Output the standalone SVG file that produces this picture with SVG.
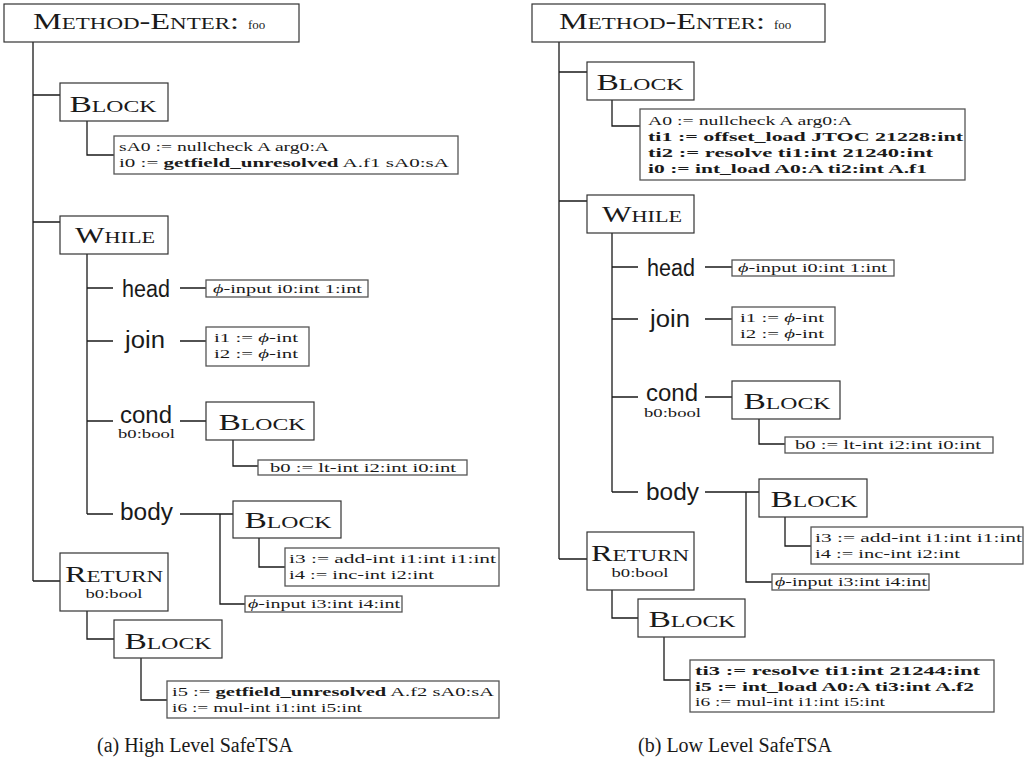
<svg xmlns="http://www.w3.org/2000/svg" width="1024" height="780" viewBox="0 0 1024 780">
<style>
.bg{fill:#fff}
.hb{fill:#fff;stroke:#333;stroke-width:1.2}
.sb{fill:#fff;stroke:#555;stroke-width:1.3}
.hd{font-family:"Liberation Serif",serif;font-variant:small-caps;font-size:24px;fill:#1a1a1a;text-anchor:middle}
.me{font-family:"Liberation Serif",serif;font-variant:small-caps;font-size:24px;fill:#1a1a1a}
.foo{font-family:"Liberation Serif",serif;font-size:13px;fill:#1a1a1a}
.st{font-family:"Liberation Serif",serif;font-size:13.5px;fill:#1a1a1a}
.sbold{font-weight:bold}
.lab{font-family:"Liberation Sans",sans-serif;font-size:23px;fill:#1a1a1a}
.ty{font-family:"Liberation Serif",serif;font-size:13.5px;fill:#1a1a1a}
.cap{font-family:"Liberation Serif",serif;font-size:20px;fill:#1a1a1a;text-anchor:middle}
.cn{fill:none;stroke:#1a1a1a;stroke-width:1.3}
</style>
<rect class="bg" x="0" y="0" width="1024" height="780"/>
<g id="connectors">
<path class="cn" d="M33 42V581M33 95H60M33 222H60M33 581H60M87 121V155H114M87 254V514M87 288H113M87 341H113M87 421H113M87 514H113M180 288H206M180 341H206M180 421H206M180 514H233M233 440V466H258M220 514V604H245M259 538V567H285M87 611V639H114M141 658V700H167"/>
<path class="cn" d="M559 42V559M559 72H587M559 201H587M559 559H587M612 100V126H640M612 233V492M612 267H638M612 319H638M612 397H638M612 492H638M705 267H732M705 319H732M705 397H732M705 492H759M759 419V444H785M746 492V582H772M785 517V546H811M612 590V618H638M664 637V680H690"/>
</g>
<!-- Left tree -->
<g id="a-method">
<rect class="hb" x="4" y="4" width="295" height="38"/>
<text class="me" x="33" y="29" textLength="206" lengthAdjust="spacingAndGlyphs">Method-Enter:</text>
<text class="foo" x="248" y="29">foo</text>
</g>
<g id="a-block1">
<rect class="hb" x="60" y="83" width="108" height="38"/>
<text class="hd" x="113" y="112" textLength="87" lengthAdjust="spacingAndGlyphs">Block</text>
</g>
<g id="a-stmt1">
<rect class="sb" x="114" y="136" width="344" height="38"/>
<text class="st" x="119" y="151" textLength="210" lengthAdjust="spacingAndGlyphs">sA0 := nullcheck A arg0:A</text>
<text class="st" x="119" y="167" textLength="330" lengthAdjust="spacingAndGlyphs">i0 := <tspan class="sbold">getfield_unresolved</tspan> A.f1 sA0:sA</text>
</g>
<g id="a-while">
<rect class="hb" x="60" y="216" width="108" height="38"/>
<text class="hd" x="115" y="243" textLength="80" lengthAdjust="spacingAndGlyphs">While</text>
</g>
<g id="a-head">
<text class="lab" x="122" y="297" textLength="48" lengthAdjust="spacingAndGlyphs">head</text>
</g>
<g id="a-head-stmt">
<rect class="sb" x="206" y="280" width="162" height="17"/>
<text class="st" x="213" y="293" textLength="149" lengthAdjust="spacingAndGlyphs"><tspan font-style="italic">ϕ</tspan>-input i0:int 1:int</text>
</g>
<g id="a-join">
<text class="lab" x="125" y="348" textLength="40" lengthAdjust="spacingAndGlyphs">join</text>
</g>
<g id="a-join-stmt">
<rect class="sb" x="206" y="327" width="103" height="39"/>
<text class="st" x="214" y="342" textLength="84" lengthAdjust="spacingAndGlyphs">i1 := <tspan font-style="italic">ϕ</tspan>-int</text>
<text class="st" x="214" y="358" textLength="84" lengthAdjust="spacingAndGlyphs">i2 := <tspan font-style="italic">ϕ</tspan>-int</text>
</g>
<g id="a-cond">
<text class="lab" x="120" y="423" textLength="52" lengthAdjust="spacingAndGlyphs">cond</text>
<text class="ty" x="118" y="438" textLength="57" lengthAdjust="spacingAndGlyphs">b0:bool</text>
</g>
<g id="a-cond-block">
<rect class="hb" x="206" y="402" width="108" height="38"/>
<text class="hd" x="262" y="430" textLength="87" lengthAdjust="spacingAndGlyphs">Block</text>
</g>
<g id="a-cond-stmt">
<rect class="sb" x="258" y="460" width="209" height="15"/>
<text class="st" x="270" y="472" textLength="186" lengthAdjust="spacingAndGlyphs">b0 := lt-int i2:int i0:int</text>
</g>
<g id="a-body">
<text class="lab" x="120" y="520" textLength="53" lengthAdjust="spacingAndGlyphs">body</text>
</g>
<g id="a-body-block">
<rect class="hb" x="233" y="501" width="108" height="37"/>
<text class="hd" x="288" y="528" textLength="87" lengthAdjust="spacingAndGlyphs">Block</text>
</g>
<g id="a-body-stmt">
<rect class="sb" x="285" y="548" width="214" height="38"/>
<text class="st" x="289" y="563" textLength="207" lengthAdjust="spacingAndGlyphs">i3 := add-int i1:int i1:int</text>
<text class="st" x="289" y="579" textLength="145" lengthAdjust="spacingAndGlyphs">i4 := inc-int i2:int</text>
</g>
<g id="a-body-phi">
<rect class="sb" x="245" y="596" width="157" height="16"/>
<text class="st" x="248" y="608" textLength="152" lengthAdjust="spacingAndGlyphs"><tspan font-style="italic">ϕ</tspan>-input i3:int i4:int</text>
</g>
<g id="a-return">
<rect class="hb" x="60" y="553" width="108" height="58"/>
<text class="hd" x="114" y="582" textLength="98" lengthAdjust="spacingAndGlyphs">Return</text>
<text class="ty" x="114" y="598" text-anchor="middle" textLength="57" lengthAdjust="spacingAndGlyphs">b0:bool</text>
</g>
<g id="a-ret-block">
<rect class="hb" x="114" y="620" width="108" height="38"/>
<text class="hd" x="168" y="649" textLength="87" lengthAdjust="spacingAndGlyphs">Block</text>
</g>
<g id="a-ret-stmt">
<rect class="sb" x="167" y="681" width="332" height="37"/>
<text class="st" x="172" y="696" textLength="322" lengthAdjust="spacingAndGlyphs">i5 := <tspan class="sbold">getfield_unresolved</tspan> A.f2 sA0:sA</text>
<text class="st" x="172" y="712" textLength="190" lengthAdjust="spacingAndGlyphs">i6 := mul-int i1:int i5:int</text>
</g>
<text class="cap" x="195" y="752">(a) High Level SafeTSA</text>
<!-- Right tree -->
<g id="b-method">
<rect class="hb" x="532" y="4" width="293" height="38"/>
<text class="me" x="559" y="29" textLength="206" lengthAdjust="spacingAndGlyphs">Method-Enter:</text>
<text class="foo" x="774" y="29">foo</text>
</g>
<g id="b-block1">
<rect class="hb" x="587" y="62" width="107" height="38"/>
<text class="hd" x="640" y="90" textLength="87" lengthAdjust="spacingAndGlyphs">Block</text>
</g>
<g id="b-stmt1">
<rect class="sb" x="640" y="109" width="325" height="71"/>
<text class="st" x="648" y="125" textLength="204" lengthAdjust="spacingAndGlyphs">A0 := nullcheck A arg0:A</text>
<text class="st sbold" x="648" y="141" textLength="315" lengthAdjust="spacingAndGlyphs">ti1 := offset_load JTOC 21228:int</text>
<text class="st sbold" x="648" y="157" textLength="285" lengthAdjust="spacingAndGlyphs">ti2 := resolve ti1:int 21240:int</text>
<text class="st sbold" x="648" y="173" textLength="279" lengthAdjust="spacingAndGlyphs">i0 := int_load A0:A ti2:int A.f1</text>
</g>
<g id="b-while">
<rect class="hb" x="587" y="195" width="107" height="38"/>
<text class="hd" x="642" y="222" textLength="80" lengthAdjust="spacingAndGlyphs">While</text>
</g>
<g id="b-head">
<text class="lab" x="647" y="276" textLength="48" lengthAdjust="spacingAndGlyphs">head</text>
</g>
<g id="b-head-stmt">
<rect class="sb" x="732" y="260" width="162" height="16"/>
<text class="st" x="738" y="272" textLength="149" lengthAdjust="spacingAndGlyphs"><tspan font-style="italic">ϕ</tspan>-input i0:int 1:int</text>
</g>
<g id="b-join">
<text class="lab" x="650" y="327" textLength="40" lengthAdjust="spacingAndGlyphs">join</text>
</g>
<g id="b-join-stmt">
<rect class="sb" x="732" y="307" width="103" height="38"/>
<text class="st" x="740" y="322" textLength="84" lengthAdjust="spacingAndGlyphs">i1 := <tspan font-style="italic">ϕ</tspan>-int</text>
<text class="st" x="740" y="338" textLength="84" lengthAdjust="spacingAndGlyphs">i2 := <tspan font-style="italic">ϕ</tspan>-int</text>
</g>
<g id="b-cond">
<text class="lab" x="646" y="401" textLength="52" lengthAdjust="spacingAndGlyphs">cond</text>
<text class="ty" x="644" y="417" textLength="57" lengthAdjust="spacingAndGlyphs">b0:bool</text>
</g>
<g id="b-cond-block">
<rect class="hb" x="732" y="381" width="108" height="38"/>
<text class="hd" x="787" y="409" textLength="87" lengthAdjust="spacingAndGlyphs">Block</text>
</g>
<g id="b-cond-stmt">
<rect class="sb" x="785" y="437" width="208" height="16"/>
<text class="st" x="795" y="449" textLength="186" lengthAdjust="spacingAndGlyphs">b0 := lt-int i2:int i0:int</text>
</g>
<g id="b-body">
<text class="lab" x="646" y="500" textLength="53" lengthAdjust="spacingAndGlyphs">body</text>
</g>
<g id="b-body-block">
<rect class="hb" x="759" y="479" width="108" height="38"/>
<text class="hd" x="814" y="507" textLength="87" lengthAdjust="spacingAndGlyphs">Block</text>
</g>
<g id="b-body-stmt">
<rect class="sb" x="811" y="527" width="212" height="37"/>
<text class="st" x="815" y="542" textLength="207" lengthAdjust="spacingAndGlyphs">i3 := add-int i1:int i1:int</text>
<text class="st" x="815" y="558" textLength="145" lengthAdjust="spacingAndGlyphs">i4 := inc-int i2:int</text>
</g>
<g id="b-body-phi">
<rect class="sb" x="772" y="574" width="157" height="16"/>
<text class="st" x="775" y="586" textLength="152" lengthAdjust="spacingAndGlyphs"><tspan font-style="italic">ϕ</tspan>-input i3:int i4:int</text>
</g>
<g id="b-return">
<rect class="hb" x="587" y="532" width="107" height="58"/>
<text class="hd" x="640" y="561" textLength="98" lengthAdjust="spacingAndGlyphs">Return</text>
<text class="ty" x="640" y="577" text-anchor="middle" textLength="57" lengthAdjust="spacingAndGlyphs">b0:bool</text>
</g>
<g id="b-ret-block">
<rect class="hb" x="638" y="599" width="107" height="38"/>
<text class="hd" x="692" y="627" textLength="87" lengthAdjust="spacingAndGlyphs">Block</text>
</g>
<g id="b-ret-stmt">
<rect class="sb" x="690" y="660" width="304" height="52"/>
<text class="st sbold" x="695" y="675" textLength="285" lengthAdjust="spacingAndGlyphs">ti3 := resolve ti1:int 21244:int</text>
<text class="st sbold" x="695" y="691" textLength="279" lengthAdjust="spacingAndGlyphs">i5 := int_load A0:A ti3:int A.f2</text>
<text class="st" x="695" y="706" textLength="190" lengthAdjust="spacingAndGlyphs">i6 := mul-int i1:int i5:int</text>
</g>
<text class="cap" x="735" y="752">(b) Low Level SafeTSA</text>
</svg>
